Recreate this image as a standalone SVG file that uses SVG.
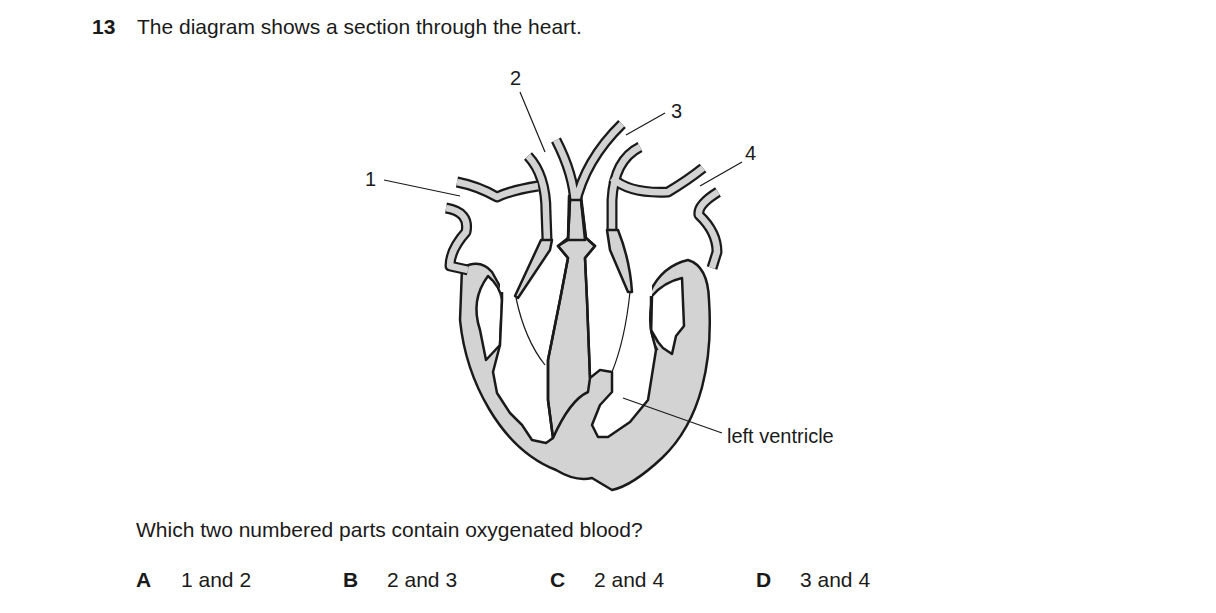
<svg xmlns="http://www.w3.org/2000/svg" width="1216" height="613" viewBox="0 0 1216 613">
<style>
text{font-family:"Liberation Sans",Arial,sans-serif;font-size:21px;fill:#1a1a1a}
.b{font-weight:bold}
.lbl{font-size:20px}
.ol{fill:none;stroke:#1a1a1a;stroke-width:11;stroke-linecap:butt;stroke-linejoin:round}
.in{fill:none;stroke:#d3d3d3;stroke-width:6.5;stroke-linecap:butt;stroke-linejoin:round}
.body{fill:#d3d3d3;stroke:#1a1a1a;stroke-width:2.5;stroke-linejoin:round}
.ch{fill:#fff;stroke:#1a1a1a;stroke-width:2.5;stroke-linejoin:round}
.wf{fill:#fff;stroke:none}
.edge{fill:none;stroke:#1a1a1a;stroke-width:2.5;stroke-linejoin:round}
.thin{fill:none;stroke:#1a1a1a;stroke-width:1.2}
.ln{stroke:#1a1a1a;stroke-width:1.2}
</style>
<rect width="1216" height="613" fill="#fff"/>
<text x="92" y="34" class="b">13</text>
<text x="137" y="34">The diagram shows a section through the heart.</text>
<g id="heart">
<path class="body" d="M462,268 Q480,258 492,272 L502,290 L650,292 Q662,266 688,260 Q708,266 709,300 C713,360 702,420 662,458 Q632,486 612,490 L592,478 Q576,482 556,470 C500,448 466,380 460,320 Z"/>
<path class="wf" d="M500,280 L652,280 L652,300 L500,300 Z"/>
<path class="ch" d="M488,276 Q500,286 502,300 L500,345 L486,360 L480,330 Q470,300 488,276 Z"/>
<path class="ch" d="M652,296 Q664,282 682,278 L684,326 L676,336 L672,354 L663,348 L658,342 L651,330 Z"/>
<path class="wf" d="M501,288 L566,288 L548,360 L548,400 L553,438 L546,443 L532,440 L510,413 L497,393 L493,372 L500,345 Z"/>
<path class="edge" d="M502,292 L502,300 L500,345 L493,372 L497,393 L510,413 L522,425 L532,440 L546,443 L553,438"/>
<path class="wf" d="M584,288 L652,288 L651,330 L656,350 L652,375 L648,400 L630,422 L608,437 L598,437 L592,425 L600,405 L612,392 L612,372 L600,372 L590,380 Z"/>
<path class="edge" d="M651,296 L651,330 L656,350 L652,375 L648,400 L630,422 L608,437 L598,437 L592,425 L600,405 L612,392 L612,372 L600,370 L590,378"/>
<path class="body" d="M569,196 L581,196 L586,238 L595,246 L585,258 L587,300 L590,378 L588,392 Q570,400 553,438 L548,400 L548,360 L560,300 L568,258 L558,246 L568,238 Z" stroke="none"/>
<path class="edge" d="M568,240 L558,246 L568,258 L560,300 L548,360 L548,400 L553,438 M586,238 L595,246 L585,258 L587,300 L590,378"/>
<path class="thin" d="M516,298 Q525,340 545,365 M630,292 Q625,340 612,372 M652,296 Q645,330 658,350"/>
</g>
<g id="vessels">
<path class="ol" d="M457,182 Q478,186 497,197 Q512,190 538,186"/>
<path class="ol" d="M528,156 Q546,175 546,212 L547,240"/>
<path class="ol" d="M556,140 Q574,175 575,205 Q585,160 622,124"/>
<path class="ol" d="M640,147 Q614,160 612,200 L612,232"/>
<path class="ol" d="M612,178 Q630,194 668,192 Q688,180 703,168"/>
<path class="ol" d="M718,192 Q697,205 699,215 Q717,232 717,252 L712,268"/>
<path class="ol" d="M446,208 Q470,212 466,232 Q450,250 450,266 L468,270"/>
<path class="in" d="M457,182 Q478,186 497,197 Q512,190 538,186"/>
<path class="in" d="M528,156 Q546,175 546,212 L547,240"/>
<path class="in" d="M556,140 Q574,175 575,205 Q585,160 622,124"/>
<path class="in" d="M640,147 Q614,160 612,200 L612,232"/>
<path class="in" d="M612,178 Q630,194 668,192 Q688,180 703,168"/>
<path class="in" d="M718,192 Q697,205 699,215 Q717,232 717,252 L712,268"/>
<path class="in" d="M446,208 Q470,212 466,232 Q450,250 450,266 L468,270"/>
<path class="body" d="M541,240 L552,240 L550,250 L518,298 L515,296 Z"/>
<path class="body" d="M607,230 L618,230 Q630,260 632,292 L628,292 L610,250 Z"/>
<path class="body" d="M570,200 L581,200 L585,240 L568,240 Z" stroke="none"/>
<path class="edge" d="M570,200 L568,240 M581,200 L586,240"/>
</g>
<g id="labels">
<text x="510" y="85" class="lbl">2</text>
<line class="ln" x1="520" y1="92" x2="545" y2="152"/>
<text x="671" y="118" class="lbl">3</text>
<line class="ln" x1="665" y1="113" x2="626" y2="135"/>
<text x="745" y="160" class="lbl">4</text>
<line class="ln" x1="742" y1="162" x2="700" y2="186"/>
<text x="365" y="186" class="lbl">1</text>
<line class="ln" x1="384" y1="180" x2="460" y2="196"/>
<text x="727" y="443" class="lbl">left ventricle</text>
<line class="ln" x1="722" y1="433" x2="623" y2="398"/>
</g>
<text x="136" y="537">Which two numbered parts contain oxygenated blood?</text>
<text x="136" y="587" class="b">A</text><text x="181" y="587">1 and 2</text>
<text x="343" y="587" class="b">B</text><text x="387" y="587">2 and 3</text>
<text x="550" y="587" class="b">C</text><text x="594" y="587">2 and 4</text>
<text x="756" y="587" class="b">D</text><text x="800" y="587">3 and 4</text>
</svg>
